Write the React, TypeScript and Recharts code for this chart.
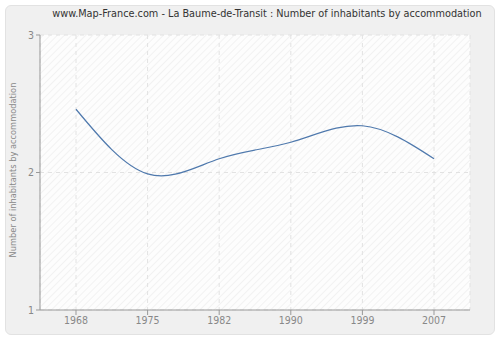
import React from "react";
import { LineChart, Line, XAxis, YAxis, CartesianGrid } from "recharts";

const years = ["1968", "1975", "1982", "1990", "1999", "2007"];
const inhabitants = [2.46, 1.99, 2.1, 2.22, 2.34, 2.1];
const yTicks = [1, 2, 3];

const data = years.map((y, i) => ({ year: y, value: inhabitants[i] }));

const FONT = "'DejaVu Sans Condensed', 'DejaVu Sans', sans-serif";

export default function App() {
  return (
    <div style={{ position: "absolute", left: 0, top: 0, width: 500, height: 340, background: "#fff" }}>
      <svg width={0} height={0} style={{ position: "absolute" }}>
        <defs>
          <pattern id="hatch" width="5" height="5" patternUnits="userSpaceOnUse" patternTransform="rotate(45)">
            <rect width="5" height="5" fill="#fdfdfd" />
            <line x1="0" y1="0" x2="0" y2="5" stroke="#efefef" strokeWidth="1.5" />
          </pattern>
        </defs>
      </svg>
      <div
        style={{
          position: "absolute",
          left: 5,
          top: 5,
          width: 488,
          height: 328,
          background: "#f0f0f0",
          border: "1px solid #e2e2e2",
          borderRadius: 6,
        }}
      />
      <div
        style={{
          position: "absolute",
          left: 0,
          top: 7,
          width: 534,
          textAlign: "center",
          fontFamily: FONT,
          fontSize: 10.8,
          color: "#333",
          whiteSpace: "nowrap",
        }}
      >
        www.Map-France.com - La Baume-de-Transit : Number of inhabitants by accommodation
      </div>
      <svg width={30} height={340} style={{ position: "absolute", left: 0, top: 0 }}>
        <text
          x={0}
          y={0}
          transform="translate(16,170) rotate(-90)"
          textAnchor="middle"
          fill="#888"
          fontSize={9.2}
          fontFamily={FONT}
        >
          Number of inhabitants by accommodation
        </text>
      </svg>
      <div style={{ position: "absolute", left: 0, top: 0 }}>
        <LineChart width={500} height={340} data={data} margin={{ top: 35, right: 30, bottom: 0, left: 10 }}>
          <CartesianGrid
            stroke="#e2e2e2"
            strokeDasharray="4 4"
            fill="url(#hatch)"
            fillOpacity={1}
            vertical={true}
            horizontal={true}
          />
          <XAxis
            dataKey="year"
            height={30}
            padding={{ left: 36, right: 36 }}
            stroke="#999"
            tickLine={{ stroke: "#999" }}
            tickSize={5}
            tick={{ fill: "#888", fontSize: 10.5, fontFamily: FONT }}
            interval={0}
          />
          <YAxis
            width={30}
            domain={[1, 3]}
            ticks={yTicks}
            stroke="#999"
            tickSize={4}
            tick={{ fill: "#888", fontSize: 10.5, fontFamily: FONT }}
          />
          <Line
            type="natural"
            dataKey="value"
            stroke="#4f79ad"
            strokeWidth={1.2}
            dot={false}
            isAnimationActive={false}
          />
        </LineChart>
      </div>
    </div>
  );
}
